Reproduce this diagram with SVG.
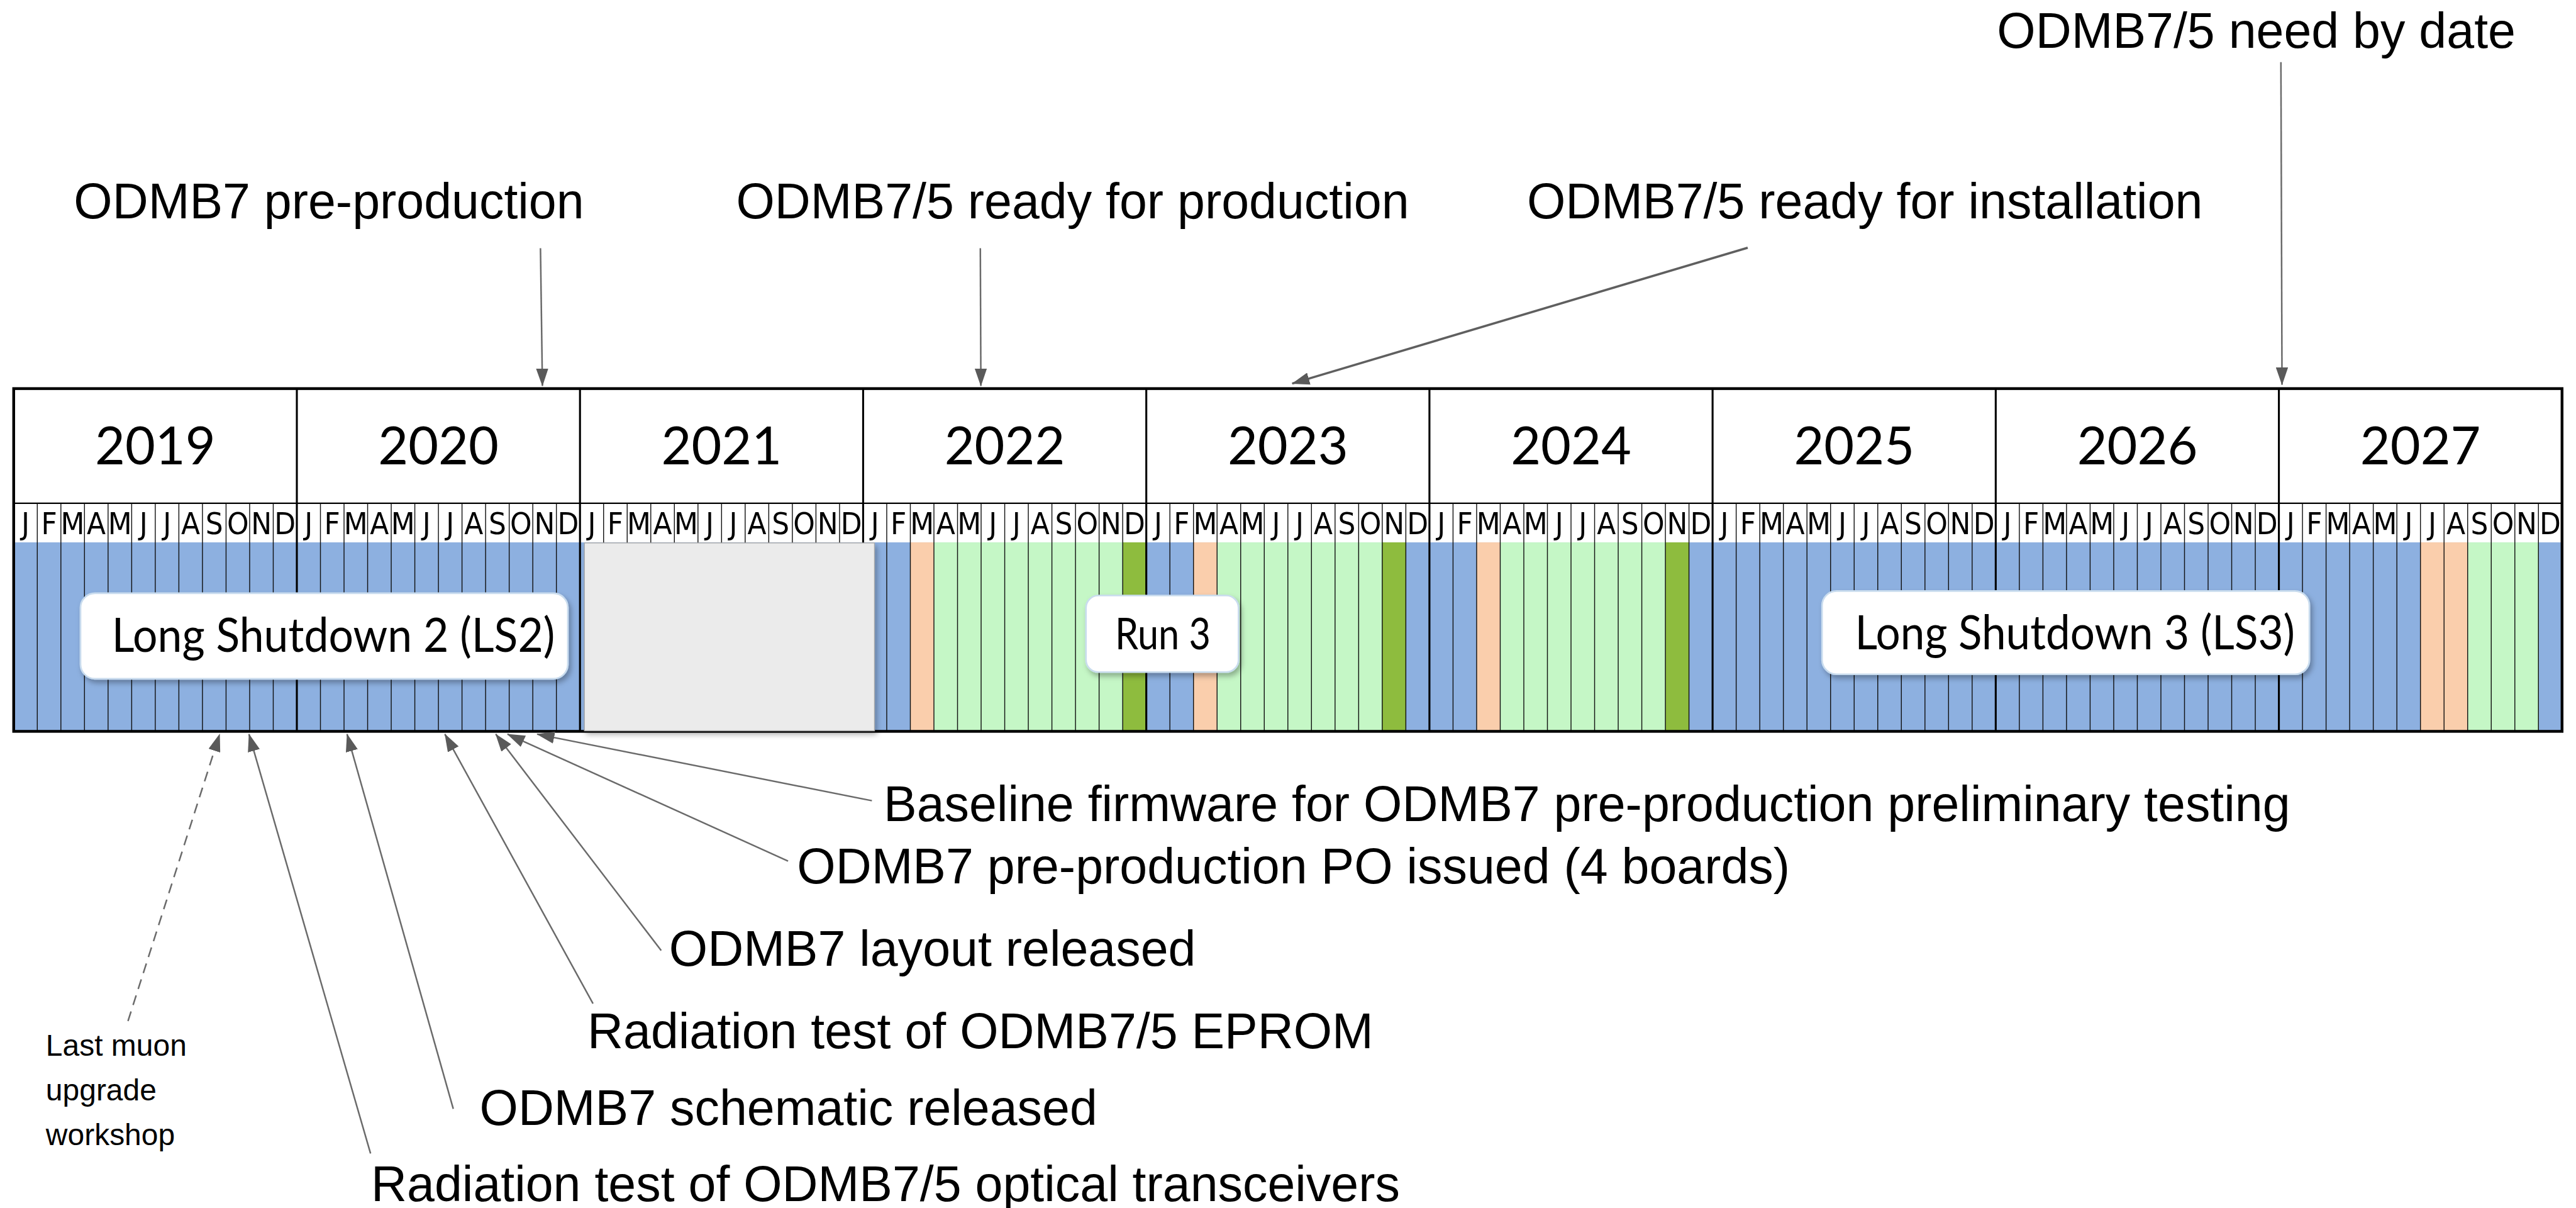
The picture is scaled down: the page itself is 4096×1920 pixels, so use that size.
<svg xmlns="http://www.w3.org/2000/svg" xmlns:xlink="http://www.w3.org/1999/xlink" width="4096" height="1920" viewBox="0 0 4096 1920">
<style>
.lbl{font-family:"Liberation Sans",Arial,sans-serif;font-size:88.8px;fill:#000}
.small{font-family:"Liberation Sans",Arial,sans-serif;font-size:54px;fill:#000}
.yr{font-family:Lato,"Open Sans",sans-serif;font-size:93px;text-anchor:middle;fill:#000}
.mo{font-family:"DejaVu Sans Condensed","DejaVu Sans",sans-serif;font-size:55px;text-anchor:middle;fill:#000}
.box{fill:#fff;stroke:#C9DCEE;stroke-width:3;filter:url(#sh)}
.boxt{font-family:Lato,"Open Sans",sans-serif;font-size:84px;fill:#000}
.arr{stroke:#6a6a6a;stroke-width:2.8;fill:none;marker-end:url(#ah)}
.blue{fill:#8DB0E0}.peach{fill:#FACEAC}.lg{fill:#C5F7C6}.dg{fill:#8EBC3E}
.mline{stroke:#111;stroke-width:1.6;fill:none}
.yline{stroke:#000;stroke-width:3.5}
</style>
<defs>
<marker id="ah" viewBox="0 0 32 22" refX="31" refY="11" markerWidth="32" markerHeight="22" markerUnits="userSpaceOnUse" orient="auto"><path d="M0 0L32 11L0 22z" fill="#5a5a5a"/></marker>
<filter id="sh" x="-10%" y="-20%" width="125%" height="150%"><feDropShadow dx="4" dy="6" stdDeviation="5" flood-color="#000" flood-opacity="0.3"/></filter>
<g id="months" class="mo"><text x="21.11">J</text><text x="63.33">F</text><text x="105.54">M</text><text x="147.76">A</text><text x="189.98">M</text><text x="232.2">J</text><text x="274.41">J</text><text x="316.63">A</text><text x="358.85">S</text><text x="401.07">O</text><text x="443.29">N</text><text x="485.5">D</text></g>
<path id="mlines" class="mline" d="M42.22 0V408M84.44 0V408M126.65 0V408M168.87 0V408M211.09 0V408M253.31 0V408M295.52 0V408M337.74 0V408M379.96 0V408M422.18 0V408M464.39 0V408"/>
</defs>
<rect width="4096" height="1920" fill="#fff"/>
<g transform="scale(0.8887)">
<g id="timeline">
<rect x="24.5" y="695" width="4559.5" height="275" fill="#fff"/>
<rect class="blue" x="24.5" y="970" width="4559.5" height="338"/>
<rect class="peach" x="1628.77" y="970" width="42.22" height="338"/>
<rect class="lg" x="1670.99" y="970" width="337.74" height="338"/>
<rect class="dg" x="2008.73" y="970" width="42.22" height="338"/>
<rect class="peach" x="2135.38" y="970" width="42.22" height="338"/>
<rect class="lg" x="2177.6" y="970" width="295.52" height="338"/>
<rect class="dg" x="2473.12" y="970" width="42.22" height="338"/>
<rect class="peach" x="2641.99" y="970" width="42.22" height="338"/>
<rect class="lg" x="2684.21" y="970" width="295.52" height="338"/>
<rect class="dg" x="2979.73" y="970" width="42.22" height="338"/>
<rect class="peach" x="4330.69" y="970" width="84.44" height="338"/>
<rect class="lg" x="4415.13" y="970" width="126.65" height="338"/>
<use href="#mlines" x="24.5" y="900"/><use href="#mlines" x="531.11" y="900"/><use href="#mlines" x="1037.72" y="900"/><use href="#mlines" x="1544.33" y="900"/><use href="#mlines" x="2050.94" y="900"/><use href="#mlines" x="2557.55" y="900"/><use href="#mlines" x="3064.16" y="900"/><use href="#mlines" x="3570.77" y="900"/><use href="#mlines" x="4077.38" y="900"/>
<use href="#months" x="24.5" y="955"/><use href="#months" x="531.11" y="955"/><use href="#months" x="1037.72" y="955"/><use href="#months" x="1544.33" y="955"/><use href="#months" x="2050.94" y="955"/><use href="#months" x="2557.55" y="955"/><use href="#months" x="3064.16" y="955"/><use href="#months" x="3570.77" y="955"/><use href="#months" x="4077.38" y="955"/>
<line x1="24.5" y1="900" x2="4584" y2="900" stroke="#000" stroke-width="2.5"/>
<g class="yline"><line x1="531.11" y1="695" x2="531.11" y2="1308"/><line x1="1037.72" y1="695" x2="1037.72" y2="1308"/><line x1="1544.33" y1="695" x2="1544.33" y2="1308"/><line x1="2050.94" y1="695" x2="2050.94" y2="1308"/><line x1="2557.55" y1="695" x2="2557.55" y2="1308"/><line x1="3064.16" y1="695" x2="3064.16" y2="1308"/><line x1="3570.77" y1="695" x2="3570.77" y2="1308"/><line x1="4077.38" y1="695" x2="4077.38" y2="1308"/></g>
<rect x="24.5" y="695" width="4559.5" height="613" fill="none" stroke="#000" stroke-width="5"/>
<g class="yr"><text x="277.8" y="830">2019</text><text x="784.4" y="830">2020</text><text x="1291" y="830">2021</text><text x="1797.6" y="830">2022</text><text x="2304.2" y="830">2023</text><text x="2810.9" y="830">2024</text><text x="3317.5" y="830">2025</text><text x="3824.1" y="830">2026</text><text x="4330.7" y="830">2027</text></g>
</g>
<g id="gap2021"><rect x="1045.6" y="971" width="519" height="336" fill="#EBEBEB" stroke="#A8A8A8" stroke-width="1.5" filter="url(#sh)"/></g>
<g id="ls2"><rect class="box" x="144" y="1061" width="872" height="153" rx="26"/><text class="boxt" x="200" y="1166" textLength="793" lengthAdjust="spacingAndGlyphs">Long Shutdown 2 (LS2)</text></g>
<g id="run3"><rect class="box" x="1943" y="1065" width="273" height="137" rx="22"/><text class="boxt" x="1995" y="1161" textLength="171" lengthAdjust="spacingAndGlyphs" style="font-size:78px">Run 3</text></g>
<g id="ls3"><rect class="box" x="3260" y="1057" width="872" height="149" rx="26"/><text class="boxt" x="3319" y="1161" textLength="787" lengthAdjust="spacingAndGlyphs">Long Shutdown 3 (LS3)</text></g>
<g id="t-preprod"><text class="lbl" x="132" y="391">ODMB7 pre-production</text></g>
<g id="t-readyprod"><text class="lbl" x="1317" y="391">ODMB7/5 ready for production</text></g>
<g id="t-readyinst"><text class="lbl" x="2732" y="391">ODMB7/5 ready for installation</text></g>
<g id="t-needby"><text class="lbl" x="3573" y="86">ODMB7/5 need by date</text></g>
<g id="b-firmware"><text class="lbl" x="1581" y="1468">Baseline firmware for ODMB7 pre-production preliminary testing</text></g>
<g id="b-po"><text class="lbl" x="1426" y="1580">ODMB7 pre-production PO issued (4 boards)</text></g>
<g id="b-layout"><text class="lbl" x="1197" y="1727">ODMB7 layout released</text></g>
<g id="b-eprom"><text class="lbl" x="1051" y="1875">Radiation test of ODMB7/5 EPROM</text></g>
<g id="b-schem"><text class="lbl" x="858" y="2012">ODMB7 schematic released</text></g>
<g id="b-optical"><text class="lbl" x="664" y="2148">Radiation test of ODMB7/5 optical transceivers</text></g>
<g id="b-workshop"><text class="small" x="82" y="1888">Last muon</text><text class="small" x="82" y="1968">upgrade</text><text class="small" x="82" y="2048">workshop</text></g>
<g id="connectors">
<path class="arr" d="M967 444L970.5 690"/>
<path class="arr" d="M1754 444L1755 690"/>
<path class="arr" d="M3127 443L2312 686" style="stroke-width:4;stroke:#5f5f5f"/>
<path class="arr" d="M4081 111L4083 688"/>
<path class="arr" d="M1560 1432L961 1313"/>
<path class="arr" d="M1410 1540L908 1313"/>
<path class="arr" d="M1183 1700L887 1313"/>
<path class="arr" d="M1061 1795L796 1313"/>
<path class="arr" d="M811 1983L621 1313"/>
<path class="arr" d="M663 2063L445.5 1313"/>
<path class="arr" d="M229 1826L393 1313" style="stroke-dasharray:18 12"/>
</g>
</g>
</svg>
